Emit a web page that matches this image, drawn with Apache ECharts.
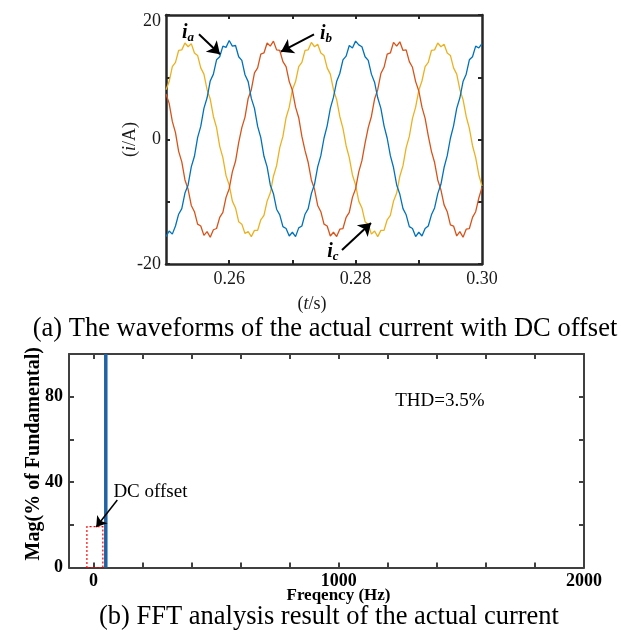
<!DOCTYPE html>
<html>
<head>
<meta charset="utf-8">
<script src="https://cdn.jsdelivr.net/npm/echarts@6/dist/echarts.min.js"></script>
<style>html,body{margin:0;padding:0;background:#fff}#c{width:621px;height:635px}</style>
</head>
<body>
<div id="c"></div>
<script>
// ---- data ----
const tStart = 0.25, tStep = 0.0005, nSamples = 101;
const t = Array.from({length: nSamples}, (_, i) => +(tStart + i * tStep).toFixed(4));
const ia = [-15.6,-14.7,-15.2,-13.9,-12.0,-11.1,-8.6,-7.3,-4.4,-2.7,0.3,2.1,5.0,6.7,9.4,10.5,12.8,13.3,15.0,14.8,
  15.9,15.0,15.1,13.3,12.7,10.4,9.3,6.6,5.0,2.1,0.3,-2.7,-4.4,-7.3,-8.7,-11.2,-12.1,-14.0,-14.3,-15.5,
  -14.9,-15.6,-14.2,-13.9,-12.0,-11.1,-8.7,-7.2,-4.4,-2.6,0.2,2.2,5.0,6.8,9.3,10.6,12.8,13.4,15.1,14.7,
  15.8,15.2,14.9,13.3,12.7,10.5,9.2,6.7,5.0,2.2,0.2,-2.6,-4.5,-7.3,-8.8,-11.1,-12.1,-14.0,-14.3,-15.6,
  -14.9,-15.5,-14.3,-13.9,-12.1,-11.0,-8.7,-7.2,-4.5,-2.6,0.2,2.2,5.0,6.7,9.3,10.5,12.8,13.3,15.0,14.7,15.4];
const ib = [7.3,5.8,2.9,1.1,-1.9,-3.6,-6.5,-8.0,-10.6,-11.6,-13.6,-13.9,-15.4,-14.8,-15.7,-14.5,-14.3,-12.5,-11.7,-9.3,
  -7.9,-5.2,-3.5,-0.5,1.9,3.6,6.6,8.0,10.7,11.5,13.7,13.9,15.5,15.0,15.8,14.4,14.3,12.5,11.7,9.3,
  7.9,5.2,3.5,0.5,-1.8,-3.7,-6.5,-8.0,-10.6,-11.6,-13.6,-13.9,-15.5,-14.9,-15.6,-14.4,-14.3,-12.5,-11.7,-9.3,
  -7.9,-5.2,-3.4,-0.6,1.9,3.7,6.5,8.0,10.6,11.6,13.7,13.9,15.6,15.0,15.7,14.3,14.4,12.5,11.6,9.3,
  7.8,5.2,3.4,0.6,-1.9,-3.7,-6.5,-8.1,-10.5,-11.6,-13.7,-13.9,-15.5,-14.8,-15.7,-14.4,-14.3,-12.5,-11.6,-9.4,-7.7];
const ic = [8.0,9.3,11.7,12.4,14.3,14.4,15.5,14.9,15.4,13.9,13.5,11.5,10.5,8.0,6.5,3.7,1.9,-1.1,-2.9,-5.8,
  -7.3,-9.9,-11.0,-13.2,-13.6,-15.1,-14.8,-15.6,-14.6,-14.6,-12.9,-12.2,-9.9,-8.6,-5.9,-4.2,-1.3,0.5,3.5,5.2,
  8.0,9.3,11.7,12.4,14.3,14.4,15.6,14.9,15.3,13.9,13.5,11.5,10.5,8.0,6.4,3.7,1.8,-1.0,-2.9,-5.7,
  -7.3,-9.9,-11.0,-13.2,-13.6,-15.2,-14.7,-15.6,-14.6,-14.6,-12.9,-12.2,-9.9,-8.6,-5.9,-4.2,-1.3,0.5,3.4,5.2,
  7.9,9.4,11.7,12.4,14.3,14.4,15.5,14.9,15.3,13.9,13.5,11.5,10.5,8.0,6.4,3.7,1.8,-1.0,-2.9,-5.7,-7.5];

const fftFreq = [50];
const fftMag = [100];

const topXLabels = [0.26, 0.28, 0.30];
const topXTicks = [0.26, 0.27, 0.28, 0.29];
const topYLabels = [-20, 0, 20];
const botXLabels = [0, 1000, 2000];
const botXTicks = [0, 200, 400, 600, 800, 1000, 1200, 1400, 1600, 1800];
const botYLabels = [0, 40, 80];
const botYTicks = [0, 20, 40, 60, 80];

// annotations (data coordinates)
const phaseLabels = [
  {name: 'a', pos: [0.25348, 17.1], from: [0.25522, 16.9], to: [0.25854, 13.7]},
  {name: 'b', pos: [0.27532, 16.9], from: [0.27342, 16.9], to: [0.26820, 14.1]},
  {name: 'c', pos: [0.27642, -18.1], from: [0.27785, -17.75], to: [0.28244, -13.4]}
];
const dcBox = [[-27, 0], [38, 19.1]];
const dcText = {text: 'DC offset', pos: [81, 35.4], from: [97, 31.6], to: [11, 19.0]};
const thdText = {text: 'THD=3.5%', pos: [1412, 78]};

// ---- chart ----
const serif = "'Liberation Serif','Times New Roman',serif";
const chart = echarts.init(document.getElementById('c'), null, {renderer: 'canvas'});
const frameTop = {show: true, onZero: false, lineStyle: {color: '#262626', width: 2.5}};
const frameBot = {show: true, onZero: false, lineStyle: {color: '#404040', width: 2}};

function xyPairs(arr) { return t.map((x, i) => [x, arr[i]]); }

const option = {
  animation: false,
  backgroundColor: '#fff',
  grid: [
    {left: 166, top: 15, width: 316, height: 249},
    {left: 69, top: 354, width: 515, height: 213.5}
  ],
  xAxis: [
    {gridIndex: 0, type: 'value', min: 0.25, max: 0.30, position: 'bottom',
      axisLine: frameTop, splitLine: {show: false},
      axisTick: {show: true, inside: true, length: 4, lineStyle: {color: '#262626', width: 2}, customValues: topXTicks},
      axisLabel: {customValues: topXLabels, color: '#1a1a1a', fontFamily: serif, fontSize: 18, margin: 6,
        formatter: v => v.toFixed(2)},
      name: '{p|(}{i|t}{p|/s)}', nameLocation: 'middle', nameGap: 31, nameMoveOverlap: false,
      nameTextStyle: {padding: [0, 24, 0, 0], rich: {p: {fontFamily: serif, fontSize: 18, color: '#1a1a1a'}, i: {fontFamily: serif, fontSize: 18, fontStyle: 'italic', color: '#1a1a1a'}}}
    },
    {gridIndex: 0, type: 'value', min: 0.25, max: 0.30, position: 'top',
      axisLine: frameTop, splitLine: {show: false}, axisLabel: {show: false},
      axisTick: {show: true, inside: true, length: 4, lineStyle: {color: '#262626', width: 2}, customValues: topXTicks}
    },
    {gridIndex: 1, type: 'value', min: -100, max: 2000, position: 'bottom',
      axisLine: frameBot, splitLine: {show: false},
      axisTick: {show: true, inside: true, length: 5, lineStyle: {color: '#404040', width: 2}, customValues: botXTicks},
      axisLabel: {customValues: botXLabels, color: '#000', fontFamily: serif, fontSize: 18, fontWeight: 'bold', margin: 5,
        formatter: v => String(v)},
      name: 'Freqency (Hz)', nameLocation: 'middle', nameGap: 20, nameMoveOverlap: false,
      nameTextStyle: {fontFamily: serif, fontSize: 17, fontWeight: 'bold', color: '#000', padding: [0, 0, 0, 24]}
    },
    {gridIndex: 1, type: 'value', min: -100, max: 2000, position: 'top',
      axisLine: frameBot, splitLine: {show: false}, axisLabel: {show: false},
      axisTick: {show: true, inside: true, length: 5, lineStyle: {color: '#404040', width: 2}, customValues: botXTicks}
    }
  ],
  yAxis: [
    {gridIndex: 0, type: 'value', min: -20, max: 20, interval: 10, position: 'left',
      axisLine: frameTop, splitLine: {show: false},
      axisTick: {show: true, inside: true, length: 4, lineStyle: {color: '#262626', width: 2}},
      axisLabel: {customValues: topYLabels, color: '#1a1a1a', fontFamily: serif, fontSize: 18, margin: 5,
        formatter: v => (v === 20 ? '{d|20}' : String(v)),
        rich: {d: {fontFamily: serif, fontSize: 18, color: '#1a1a1a', padding: [12, 0, 0, 0]}}},
      name: '{p|(}{i|i}{p|/A)}', nameLocation: 'middle', nameGap: 27, nameMoveOverlap: false,
      nameTextStyle: {rich: {p: {fontFamily: serif, fontSize: 18, color: '#1a1a1a'}, i: {fontFamily: serif, fontSize: 18, fontStyle: 'italic', color: '#1a1a1a'}}}
    },
    {gridIndex: 0, type: 'value', min: -20, max: 20, interval: 10, position: 'right',
      axisLine: frameTop, splitLine: {show: false}, axisLabel: {show: false},
      axisTick: {show: true, inside: true, length: 4, lineStyle: {color: '#262626', width: 2}}
    },
    {gridIndex: 1, type: 'value', min: 0, max: 100, position: 'left',
      axisLine: frameBot, splitLine: {show: false},
      axisTick: {show: true, inside: true, length: 5, lineStyle: {color: '#404040', width: 2}, customValues: botYTicks},
      axisLabel: {customValues: botYLabels, color: '#000', fontFamily: serif, fontSize: 18, fontWeight: 'bold', margin: 6},
      name: 'Mag(% of Fundamental)', nameLocation: 'middle', nameGap: 25, nameMoveOverlap: false,
      nameTextStyle: {fontFamily: serif, fontSize: 20, fontWeight: 'bold', color: '#000', padding: [0, 0, 0, 14]}
    },
    {gridIndex: 1, type: 'value', min: 0, max: 100, position: 'right',
      axisLine: frameBot, splitLine: {show: false}, axisLabel: {show: false},
      axisTick: {show: true, inside: true, length: 5, lineStyle: {color: '#404040', width: 2}, customValues: botYTicks}
    }
  ],
  series: [
    {type: 'line', name: 'ic', xAxisIndex: 0, yAxisIndex: 0, data: xyPairs(ic), symbol: 'none',
      lineStyle: {color: '#EDB120', width: 1.3}, itemStyle: {color: '#EDB120'}},
    {type: 'line', name: 'ib', xAxisIndex: 0, yAxisIndex: 0, data: xyPairs(ib), symbol: 'none',
      lineStyle: {color: '#D95319', width: 1.3}, itemStyle: {color: '#D95319'}},
    {type: 'line', name: 'ia', xAxisIndex: 0, yAxisIndex: 0, data: xyPairs(ia), symbol: 'none',
      lineStyle: {color: '#0072BD', width: 1.3}, itemStyle: {color: '#0072BD'},
      markLine: {silent: true, symbol: ['none', 'arrow'], symbolSize: 12, animation: false,
        lineStyle: {color: '#000', width: 2, type: 'solid'}, label: {show: false},
        data: phaseLabels.map(p => [{coord: p.from}, {coord: p.to}])},
      markPoint: {silent: true, symbol: 'circle', symbolSize: 0, animation: false,
        label: {show: true, position: 'inside',
          rich: {i: {fontFamily: serif, fontSize: 20, fontStyle: 'italic', fontWeight: 'bold', color: '#000'},
                 s: {fontFamily: serif, fontSize: 13, fontStyle: 'italic', fontWeight: 'bold', color: '#000', padding: [9, 0, 0, 0]}}},
        data: phaseLabels.map(p => ({coord: p.pos, value: p.name, label: {formatter: '{i|i}{s|' + p.name + '}'}}))}
    },
    {type: 'bar', name: 'FFT', xAxisIndex: 2, yAxisIndex: 2, data: fftFreq.map((f, i) => [f, fftMag[i]]),
      barWidth: 3.5, itemStyle: {color: '#1f63a3'},
      markArea: {silent: true, animation: false,
        itemStyle: {color: 'rgba(0,0,0,0)', borderColor: '#ff0000', borderWidth: 1.2, borderType: [2, 2]},
        data: [[{coord: dcBox[0]}, {coord: dcBox[1]}]]},
      markLine: {silent: true, symbol: ['none', 'arrow'], symbolSize: 10, animation: false,
        lineStyle: {color: '#000', width: 1.5, type: 'solid'}, label: {show: false},
        data: [[{coord: dcText.from}, {coord: dcText.to}]]},
      markPoint: {silent: true, symbol: 'circle', symbolSize: 0, animation: false,
        data: [
          {coord: dcText.pos, label: {show: true, position: 'right', distance: 0, formatter: dcText.text,
            fontFamily: serif, fontSize: 19, color: '#000'}},
          {coord: thdText.pos, label: {show: true, position: 'inside', formatter: thdText.text,
            fontFamily: serif, fontSize: 19, color: '#000'}}
        ]}
    }
  ],
  graphic: [
    {type: 'text', x: 325, y: 329, style: {text: '(a) The waveforms of the actual current with DC offset',
      font: "26.5px 'Liberation Serif','Times New Roman',serif", fill: '#000', align: 'center', verticalAlign: 'middle'}},
    {type: 'text', x: 329, y: 617, style: {text: '(b) FFT analysis result of the actual current',
      font: "26.5px 'Liberation Serif','Times New Roman',serif", fill: '#000', align: 'center', verticalAlign: 'middle'}}
  ]
};
chart.setOption(option);
</script>
</body>
</html>
